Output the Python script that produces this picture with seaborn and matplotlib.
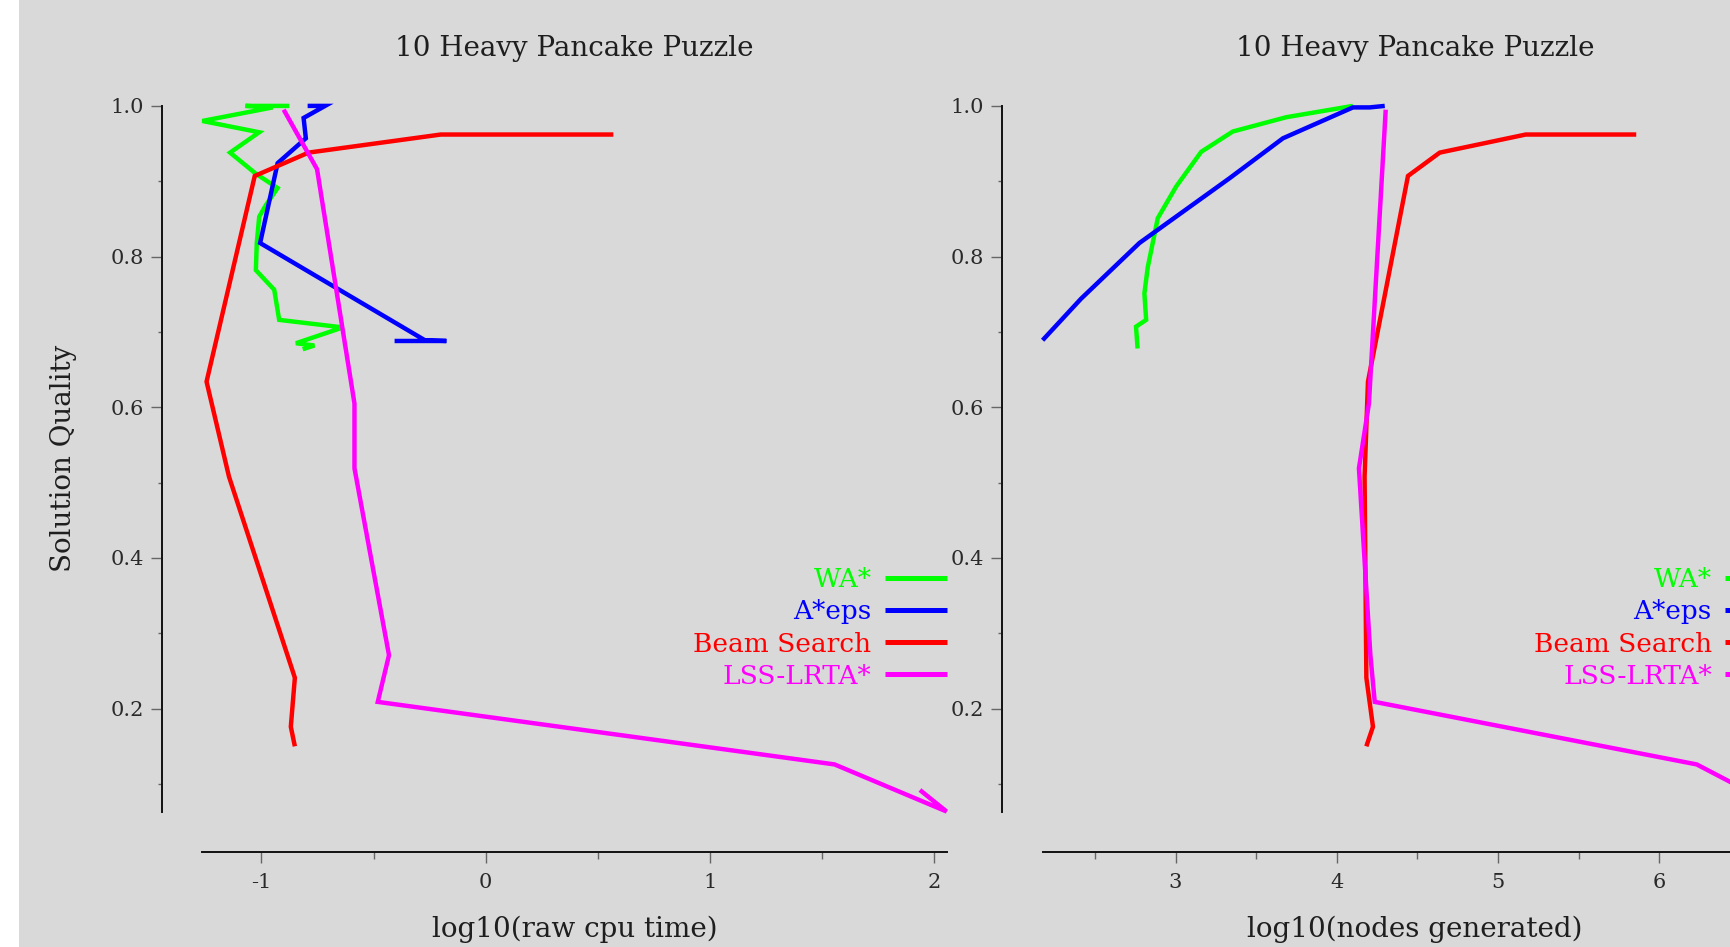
import matplotlib
matplotlib.use("Agg")
import matplotlib.pyplot as plt
import seaborn as sns
from matplotlib.ticker import MultipleLocator, FormatStrFormatter
from matplotlib.patches import Rectangle

# ---------------- data ----------------
series_names = ["WA*", "A*eps", "Beam Search", "LSS-LRTA*"]
series_colors = ["#00ff00", "#0000ff", "#ff0000", "#ff00ff"]

panel_title = "10 Heavy Pancake Puzzle"
y_label = "Solution Quality"
x_label_left = "log10(raw cpu time)"
x_label_right = "log10(nodes generated)"

# left panel: log10(raw cpu time)
wa_cpu = [-0.876, -1.071, -0.950, -1.264, -1.010, -1.140, -1.025, -0.928, -0.981,
          -1.010, -1.021, -1.025, -0.943, -0.921, -0.637, -0.846, -0.764, -0.816]
wa_cpu_quality = [1.000, 1.000, 0.998, 0.980, 0.965, 0.938, 0.910, 0.891, 0.868,
                  0.853, 0.818, 0.782, 0.756, 0.716, 0.706, 0.685, 0.682, 0.677]

aeps_cpu = [-0.794, -0.716, -0.812, -0.802, -0.928, -1.006, -0.271, -0.175, -0.406]
aeps_cpu_quality = [1.000, 1.000, 0.984, 0.957, 0.924, 0.818, 0.689, 0.688, 0.688]

beam_cpu = [0.570, -0.200, -0.790, -1.030, -1.245, -1.145, -0.851, -0.869, -0.851]
beam_quality = [0.962, 0.962, 0.938, 0.907, 0.634, 0.508, 0.241, 0.176, 0.150]

lss_cpu = [-0.901, -0.752, -0.585, -0.585, -0.431, -0.481, 1.557, 2.057, 1.938]
lss_quality = [0.995, 0.916, 0.605, 0.519, 0.271, 0.209, 0.126, 0.0635, 0.092]

# right panel: log10(nodes generated)
wa_nodes = [4.100, 3.687, 3.355, 3.159, 3.004, 2.890, 2.828, 2.807, 2.818, 2.755, 2.765]
wa_nodes_quality = [1.000, 0.985, 0.966, 0.939, 0.893, 0.851, 0.786, 0.751, 0.716, 0.707, 0.678]

aeps_nodes = [2.176, 2.414, 2.776, 3.335, 3.666, 4.100, 4.204, 4.297]
aeps_nodes_quality = [0.689, 0.744, 0.818, 0.904, 0.957, 0.998, 0.998, 1.000]

beam_nodes = [5.856, 5.171, 4.638, 4.441, 4.193, 4.172, 4.183, 4.224, 4.183]

lss_nodes = [4.303, 4.282, 4.199, 4.137, 4.208, 4.235, 6.231, 6.790, 6.670]

# ---------------- style ----------------
sns.set_theme(style="ticks")
BG = "#d9d9d9"
TXT = "#1e1e1e"
plt.rcParams["font.family"] = ["DejaVu Serif"]
plt.rcParams["axes.unicode_minus"] = False

W, H = 1730, 947
fig = plt.figure(figsize=(W / 100, H / 100), dpi=100, facecolor=BG)
fig.patches.append(Rectangle((0, 0), 19 / W, 1, transform=fig.transFigure,
                             facecolor="white", edgecolor="none", zorder=-10))

ax_w = 744.3 / W
ax_b = 1 - 811.5 / H
ax_h = (811.5 - 105.9) / H
ax_left = fig.add_axes([202.3 / W, ax_b, ax_w, ax_h])
ax_right = fig.add_axes([1042.6 / W, ax_b, ax_w, ax_h])

panels = [
    (ax_left, x_label_left,
     [(wa_cpu, wa_cpu_quality), (aeps_cpu, aeps_cpu_quality),
      (beam_cpu, beam_quality), (lss_cpu, lss_quality)]),
    (ax_right, x_label_right,
     [(wa_nodes, wa_nodes_quality), (aeps_nodes, aeps_nodes_quality),
      (beam_nodes, beam_quality), (lss_nodes, lss_quality)]),
]

for ax, xlabel, series in panels:
    ax.set_facecolor("none")
    for (xs, ys), name, col in zip(series, series_names, series_colors):
        sns.lineplot(x=xs, y=ys, sort=False, estimator=None, color=col,
                     linewidth=3.2, label=name, ax=ax, clip_on=False,
                     solid_joinstyle="miter", solid_capstyle="butt")
    all_x = [v for xs, _ in series for v in xs]
    all_y = [v for _, ys in series for v in ys]
    x0, x1 = min(all_x), max(all_x)
    y0, y1 = min(all_y), max(all_y)
    ax.set_xlim(x0, x1)
    ax.set_ylim(y0, y1)

    for s in ("top", "right"):
        ax.spines[s].set_visible(False)
    for s in ("left", "bottom"):
        ax.spines[s].set_position(("outward", 29))
        ax.spines[s].set_color("#111111")
        ax.spines[s].set_linewidth(1.4)
    ax.spines["left"].set_bounds(y0, y1)
    ax.spines["bottom"].set_bounds(x0, x1)

    ax.xaxis.set_major_locator(MultipleLocator(1))
    ax.xaxis.set_minor_locator(MultipleLocator(0.5))
    ax.yaxis.set_major_locator(MultipleLocator(0.2))
    ax.yaxis.set_minor_locator(MultipleLocator(0.1))
    ax.yaxis.set_major_formatter(FormatStrFormatter("%.1f"))
    ax.xaxis.set_major_formatter(FormatStrFormatter("%d"))

    ax.tick_params(axis="both", which="major", direction="out", length=8,
                   width=1.0, color="#666666", labelsize=15, labelcolor="#2a2a2a")
    ax.tick_params(axis="x", which="major", pad=7)
    ax.tick_params(axis="y", which="major", pad=5)
    ax.tick_params(axis="x", which="minor", direction="out", length=5,
                   width=1.0, color="#666666")
    ax.tick_params(axis="y", which="minor", direction="out", length=3,
                   width=1.0, color="#666666")

    ax.set_title(panel_title, fontsize=20, color=TXT, pad=36)
    ax.set_xlabel(xlabel, fontsize=20, color=TXT, labelpad=17)

    handles, labels = ax.get_legend_handles_labels()
    leg = ax.legend(handles, labels, loc="center right", bbox_to_anchor=(1.0, 0.26),
                    frameon=False, markerfirst=False, labelcolor="linecolor",
                    fontsize=19, handlelength=2.35, handletextpad=0.5,
                    labelspacing=0.27, borderpad=0, borderaxespad=0)
    for ln in leg.get_lines():
        ln.set_linewidth(3.6)

ax_left.set_ylabel(y_label, fontsize=20, color=TXT, labelpad=24)
ax_right.set_ylabel("")

fig.savefig("out.png", dpi=100, facecolor=BG)
